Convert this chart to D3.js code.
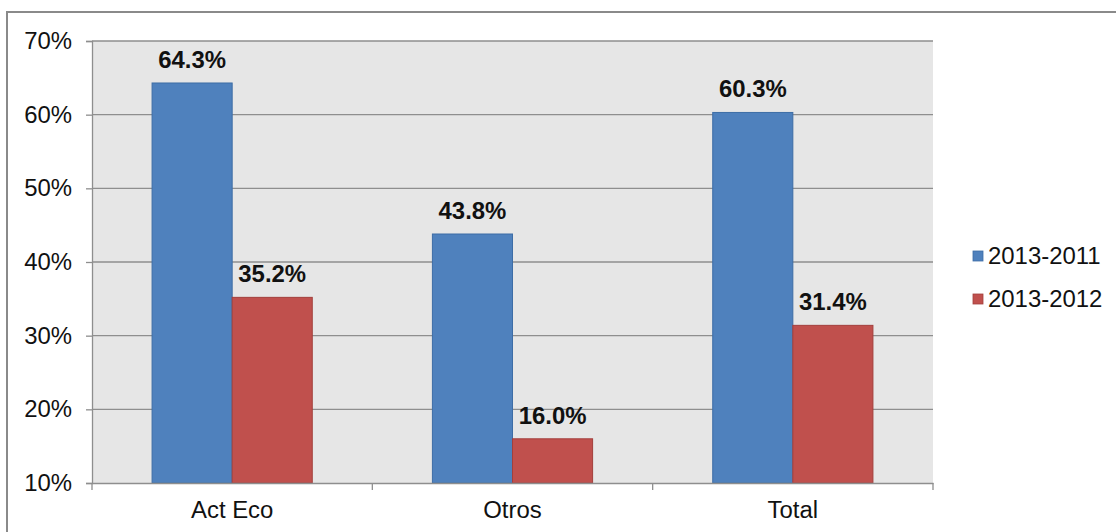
<!DOCTYPE html>
<html>
<head>
<meta charset="utf-8">
<script src="https://cdn.jsdelivr.net/npm/d3@7/dist/d3.min.js"></script>
<style>
  html, body { margin: 0; padding: 0; background: #fff; }
  svg { display: block; }
  text { font-family: "Liberation Sans", Arial, sans-serif; fill: #111; }
</style>
</head>
<body>
<svg id="chart" width="1116" height="532"></svg>
<script>
// Chart data
const categories = ["Act Eco", "Otros", "Total"];
const seriesNames = ["2013-2011", "2013-2012"];
const series2011 = [64.3, 43.8, 60.3];
const series2012 = [35.2, 16.0, 31.4];
const yTicks = [10, 20, 30, 40, 50, 60, 70];
const colors = ["#4f81bd", "#c0504d"];
const strokeColors = ["#3d6da6", "#a33f3c"];

const svg = d3.select("#chart");
const W = 1116, H = 532;
const plot = { left: 92, top: 41, right: 933, bottom: 483 };
const stretch = 1.04; // horizontal text stretch
const fontSize = "23px";

// outer frame (top and left edges visible)
svg.append("path")
  .attr("d", `M7,${H} L7,12 L${W},12`)
  .attr("fill", "none").attr("stroke", "#8a8a8a").attr("stroke-width", 2);

const x = d3.scaleBand().domain(categories).range([plot.left, plot.right]).paddingInner(0).paddingOuter(0);
const xs = d3.scaleBand().domain(seriesNames).range([0, x.bandwidth()]).paddingInner(0).paddingOuter(0.75);
const y = d3.scaleLinear().domain([10, 70]).range([plot.bottom, plot.top]);

// plot background
svg.append("rect")
  .attr("x", plot.left).attr("y", plot.top)
  .attr("width", plot.right - plot.left).attr("height", plot.bottom - plot.top)
  .attr("fill", "#e6e6e6");

// horizontal gridlines
svg.append("g").selectAll("line").data(yTicks.filter(t => t > 10)).join("line")
  .attr("x1", plot.left).attr("x2", plot.right)
  .attr("y1", d => y(d)).attr("y2", d => y(d))
  .attr("stroke", "#8e8e8e").attr("stroke-width", 1.3);

// y axis
const yAxis = svg.append("g").attr("transform", `translate(${plot.left},0)`)
  .call(d3.axisLeft(y).tickValues(yTicks).tickSize(6).tickPadding(0).tickFormat(() => ""));
yAxis.select(".domain").attr("stroke", "#8e8e8e").attr("stroke-width", 1.3);
yAxis.selectAll(".tick line").attr("stroke", "#8e8e8e").attr("stroke-width", 1.3);
svg.append("g").selectAll("text").data(yTicks).join("text")
  .attr("transform", d => `translate(72,${y(d) + 8}) scale(${stretch},1)`)
  .attr("text-anchor", "end")
  .style("font-size", fontSize)
  .text(d => d + "%");

// bars
const groups = svg.append("g").selectAll("g").data(categories).join("g")
  .attr("transform", d => `translate(${x(d)},0)`);
const valuesFor = (i) => [series2011[i], series2012[i]];
groups.each(function(cat, i) {
  const g = d3.select(this);
  const vals = valuesFor(i);
  g.selectAll("rect").data(vals).join("rect")
    .attr("x", (d, j) => xs(seriesNames[j]))
    .attr("width", xs.bandwidth())
    .attr("y", d => y(d))
    .attr("height", d => y(10) - y(d))
    .attr("fill", (d, j) => colors[j])
    .attr("stroke", (d, j) => strokeColors[j])
    .attr("stroke-width", 1);
  g.selectAll("text.val").data(vals).join("text")
    .attr("class", "val")
    .attr("transform", (d, j) => `translate(${xs(seriesNames[j]) + xs.bandwidth() / 2},${y(d) - 15}) scale(${stretch},1)`)
    .attr("text-anchor", "middle")
    .style("font-size", fontSize).style("font-weight", "bold")
    .text(d => d.toFixed(1) + "%");
});

// x axis
const xAxis = svg.append("g").attr("transform", `translate(0,${plot.bottom})`)
  .call(d3.axisBottom(x).tickSize(0).tickFormat(() => ""));
xAxis.select(".domain").attr("stroke", "#8e8e8e").attr("stroke-width", 1.3);
const bounds = [plot.left, ...categories.map(c => x(c) + x.bandwidth())];
svg.append("g").selectAll("line").data(bounds).join("line")
  .attr("x1", d => d).attr("x2", d => d)
  .attr("y1", plot.bottom).attr("y2", plot.bottom + 7)
  .attr("stroke", "#8e8e8e").attr("stroke-width", 1.3);
svg.append("g").selectAll("text").data(categories).join("text")
  .attr("transform", d => `translate(${x(d) + x.bandwidth() / 2},518) scale(${stretch},1)`)
  .attr("text-anchor", "middle")
  .style("font-size", fontSize)
  .text(d => d);

// legend
const legend = svg.append("g").selectAll("g").data(seriesNames).join("g")
  .attr("transform", (d, i) => `translate(973,${251 + i * 43})`);
legend.append("rect")
  .attr("width", 10).attr("height", 10)
  .attr("fill", (d, i) => colors[i])
  .attr("stroke", (d, i) => strokeColors[i]).attr("stroke-width", 0.8);
legend.append("text")
  .attr("transform", `translate(15,13) scale(${stretch},1)`)
  .style("font-size", fontSize)
  .text(d => d);
</script>
</body>
</html>
